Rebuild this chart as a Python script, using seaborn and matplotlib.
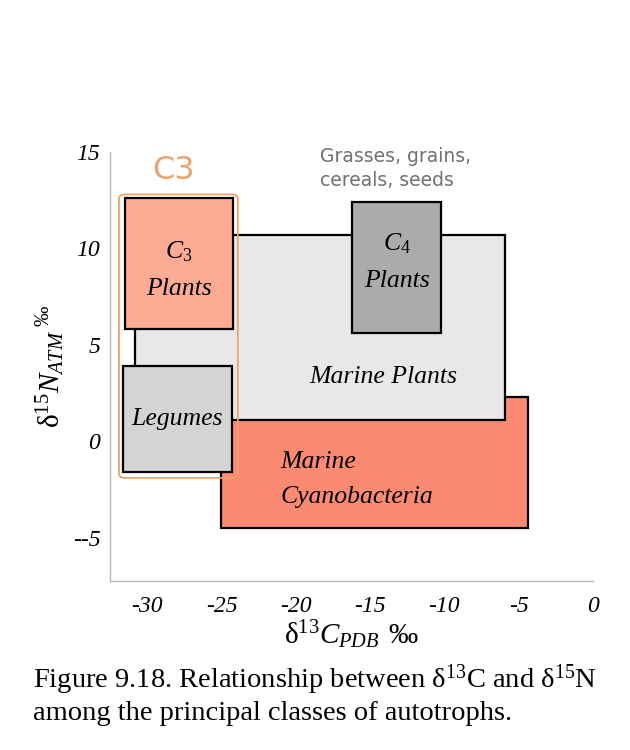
"""
delta13C vs delta15N ranges of the principal classes of autotrophs
"""

import matplotlib
matplotlib.use("Agg")
import seaborn as sns
from matplotlib import pyplot as plt
from matplotlib.patches import FancyBboxPatch

# boxes: name, left, right, bottom, top (per mil)
box_names = ["Marine\nCyanobacteria", "Marine Plants", "C3 Plants", "Legumes", "C4 Plants"]
box_c13_low = [-25.0, -30.8, -31.5, -31.6, -16.2]
box_c13_high = [-4.4, -5.9, -24.2, -24.3, -10.2]
box_n15_low = [-4.5, 1.1, 5.8, -1.6, 5.6]
box_n15_high = [2.3, 10.7, 12.6, 3.9, 12.4]
box_colors = ["#fa8a72", "#e8e8e8", "#fdab93", "#d4d4d4", "#ababab"]

# C3 group outline (left, right, bottom, top)
c3_group = [-31.9, -23.9, -1.9, 12.8]

x_ticks = [-30, -25, -20, -15, -10, -5, 0]
x_tick_labels = ["-30", "-25", "-20", "-15", "-10", "-5", "0"]
y_ticks = [-5, 0, 5, 10, 15]
y_tick_labels = ["--5", "0", "5", "10", "15"]

sns.set_style("white")
plt.rcParams["mathtext.fontset"] = "custom"
plt.rcParams["mathtext.rm"] = "Liberation Serif"
plt.rcParams["mathtext.it"] = "Liberation Serif:italic"
plt.rcParams["mathtext.bf"] = "Liberation Serif:bold"
plt.rcParams["text.color"] = "black"
plt.rcParams["axes.labelcolor"] = "black"
plt.rcParams["xtick.labelcolor"] = "black"
plt.rcParams["ytick.labelcolor"] = "black"

serif_it = dict(family="Liberation Serif", style="italic")


def main():
    fig = plt.figure(figsize=(6.3, 7.5), dpi=100)
    ax = fig.add_axes([0.1746, 0.2253, 0.7667, 0.572])

    # draw the ranges as bars, bottom to top
    for i in range(len(box_names)):
        ax.bar(box_c13_low[i], box_n15_high[i] - box_n15_low[i],
               width=box_c13_high[i] - box_c13_low[i], bottom=box_n15_low[i],
               align="edge", color=box_colors[i], edgecolor="black",
               linewidth=1.6, zorder=2 + i)

    # orange outline around the C3 group
    outline = FancyBboxPatch((c3_group[0], c3_group[2]),
                             c3_group[1] - c3_group[0], c3_group[3] - c3_group[2],
                             boxstyle="round,pad=0,rounding_size=0.35",
                             mutation_aspect=0.77, fill=False,
                             edgecolor="#e8a46a", linewidth=1.3, zorder=10)
    ax.add_patch(outline)

    # labels inside boxes
    ax.text(-21.05, -2.0, "Marine\nCyanobacteria", ha="left", va="center",
            fontsize=18.5, linespacing=1.75, zorder=11, **serif_it)
    ax.text(-14.1, 3.35, "Marine Plants", ha="center", va="center",
            fontsize=18.5, zorder=11, **serif_it)
    ax.text(-27.85, 8.9, "$C_3$\nPlants", ha="center", va="center",
            fontsize=18.5, linespacing=1.85, zorder=11, **serif_it)
    ax.text(-28.0, 1.15, "Legumes", ha="center", va="center",
            fontsize=18.5, zorder=11, **serif_it)
    ax.text(-13.2, 9.3, "$C_4$\nPlants", ha="center", va="center",
            fontsize=18.5, linespacing=1.85, zorder=11, **serif_it)

    ax.text(-28.2, 14.05, "C3", ha="center", va="center", color="#e8a46a",
            fontsize=23, family="DejaVu Sans", clip_on=False)
    ax.text(-18.4, 15.25, "Grasses, grains,\ncereals, seeds", ha="left", va="top",
            color="#707070", fontsize=13.5, linespacing=1.3,
            family="DejaVu Sans", clip_on=False)

    ax.set_xlim(-32.5, 0)
    ax.set_ylim(-7.25, 15)
    ax.set_xticks(x_ticks)
    ax.set_xticklabels(x_tick_labels, **serif_it)
    ax.set_xticks([t + 2.5 for t in x_ticks[:-1]], minor=True)
    ax.set_yticks(y_ticks)
    ax.set_yticklabels(y_tick_labels, **serif_it)
    ax.set_yticks([t + 2.5 for t in y_ticks[:-1]], minor=True)
    ax.tick_params(which="both", direction="in", length=6, width=1,
                   color="#aaaaaa", labelsize=17)
    ax.tick_params(axis="x", pad=11)
    ax.tick_params(axis="y", pad=7)

    sns.despine(ax=ax)
    for side in ["left", "bottom"]:
        ax.spines[side].set_color("#bbbbbb")
        ax.spines[side].set_linewidth(1)

    ax.set_xlabel(r"$\mathrm{\delta^{13}}C_{PDB}$ $‰$", fontsize=21, labelpad=1)
    ax.set_ylabel(r"$\mathrm{\delta^{15}}N_{ATM}{}^{\ ‰}$", fontsize=21, labelpad=4)

    fig.text(0.052, 0.074,
             "Figure 9.18. Relationship between δ$^{13}$C and δ$^{15}$N\n"
             "among the principal classes of autotrophs.",
             ha="left", va="center", fontsize=20.5, linespacing=1.2,
             family="Liberation Serif")

    fig.savefig("out.png", dpi=100)


if __name__ == "__main__":
    main()
